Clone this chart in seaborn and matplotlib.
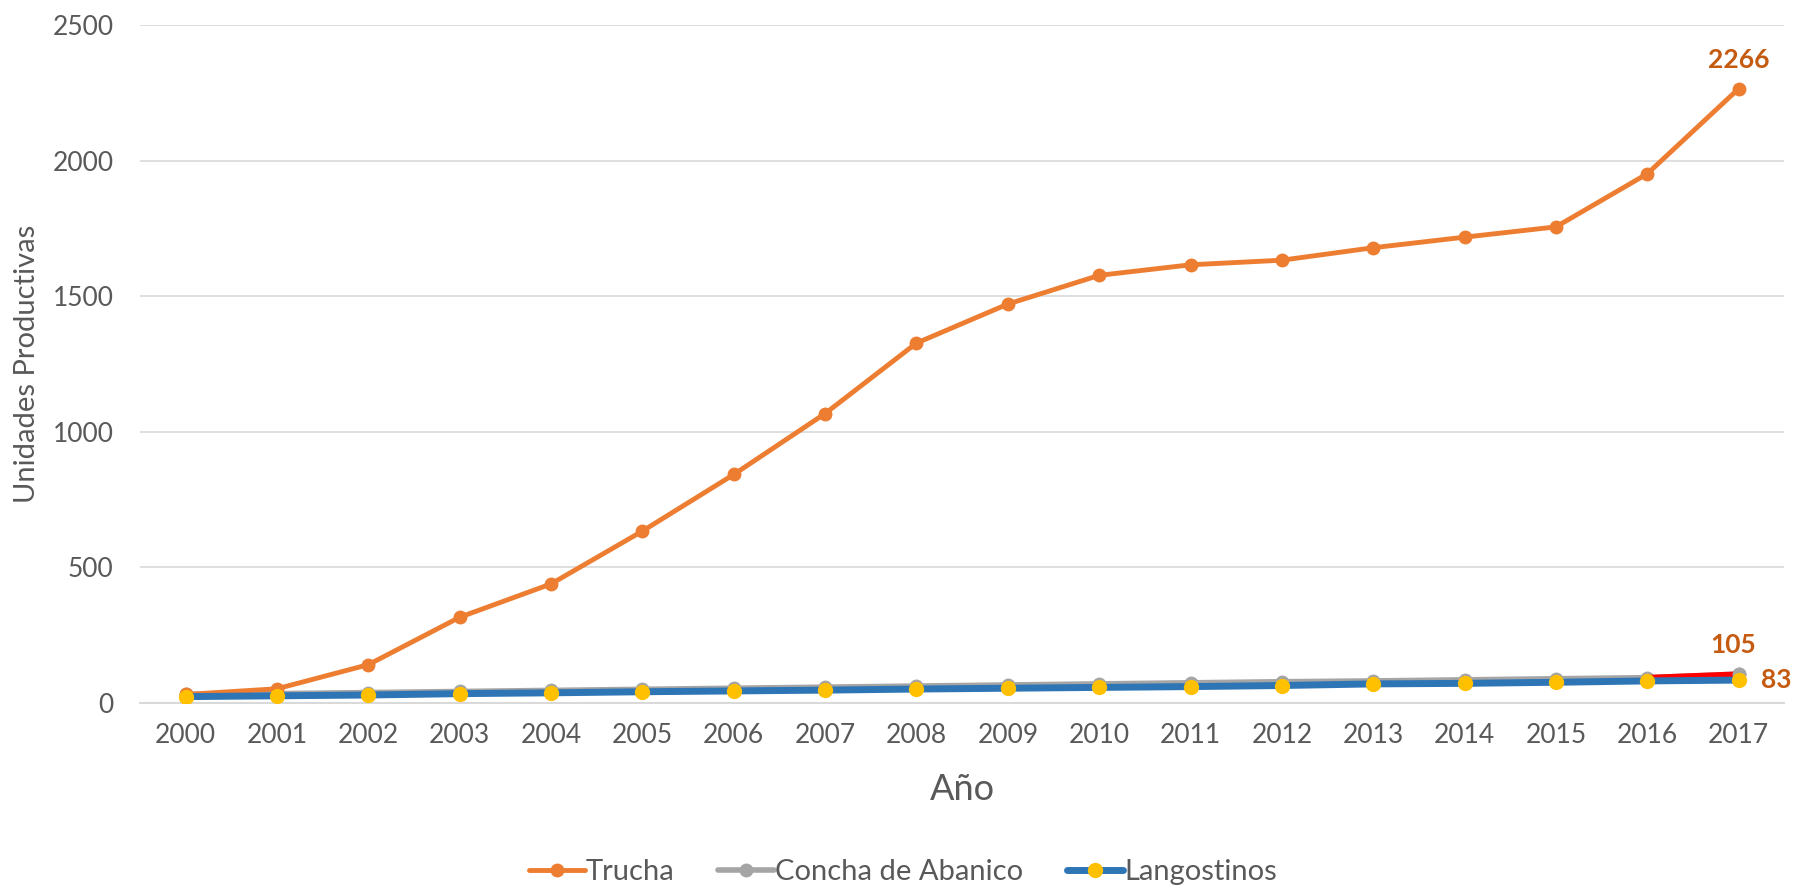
import numpy as np
import pandas as pd
import matplotlib
matplotlib.use('Agg')
import matplotlib.pyplot as plt
import seaborn as sns

years = [str(y) for y in range(2000, 2018)]
trucha = [30, 51, 140, 315, 438, 633, 842, 1067, 1327, 1471, 1577, 1616, 1633, 1679, 1718, 1756, 1952, 2266]
concha = [30, 33, 37, 41, 45, 49, 53, 57, 61, 65, 69, 73, 77, 80, 84, 88, 92, 105]
langostinos = [22, 25, 28, 33, 36, 40, 43, 46, 50, 53, 56, 59, 63, 69, 71, 75, 80, 83]

sns.set_theme(style='white')
plt.rcParams['font.family'] = ['Lato', 'DejaVu Sans']

df = pd.DataFrame({'Año': years, 'Trucha': trucha,
                   'Concha de Abanico': concha, 'Langostinos': langostinos})

fig = plt.figure(figsize=(18.06, 8.88), dpi=100)
ax = fig.add_axes([0.0775, 0.2088, 0.9105, 0.7627])

x = np.arange(len(years))
sns.lineplot(x=x, y=df['Trucha'], ax=ax, color='#ED7D31', lw=3.5, marker='o',
             markersize=10, markeredgewidth=0, label='Trucha', zorder=3)
sns.lineplot(x=x, y=df['Concha de Abanico'], ax=ax, color='#A5A5A5', lw=4, marker='o',
             markersize=10, markeredgewidth=0, label='Concha de Abanico', zorder=2)
# last segment highlighted red
ax.plot(x[-2:], df['Concha de Abanico'].values[-2:], color='#FF0000', lw=4, zorder=2.5)
ax.plot(x[-1], concha[-1], 'o', color='#A5A5A5', ms=10, mew=0, zorder=2.6)
sns.lineplot(x=x, y=df['Langostinos'], ax=ax, color='#2E75B6', lw=5, marker='o',
             markersize=11, markerfacecolor='#FFC000', markeredgewidth=0,
             label='Langostinos', zorder=4)

lab = dict(color='#C55A11', fontsize=19, fontweight='bold')
ax.annotate(str(trucha[-1]), (x[-1], trucha[-1]), xytext=(0, 12), textcoords='offset points',
            ha='center', va='bottom', **lab)
ax.annotate(str(concha[-1]), (x[-1], concha[-1]), xytext=(-4, 12), textcoords='offset points',
            ha='center', va='bottom', **lab)
ax.annotate(str(langostinos[-1]), (x[-1], langostinos[-1]), xytext=(16, 0), textcoords='offset points',
            ha='left', va='center', **lab)

ax.set_xlim(-0.5, len(years) - 0.5)
ax.set_ylim(0, 2500)
ax.set_yticks(range(0, 2501, 500))
ax.set_xticks(x)
ax.set_xticklabels(years)
ax.yaxis.grid(True, color='#D9D9D9', lw=1.2)
ax.set_axisbelow(True)
for s in ['top', 'right', 'left']:
    ax.spines[s].set_visible(False)
ax.spines['bottom'].set_color('#D9D9D9')
ax.spines['bottom'].set_linewidth(1.5)
ax.tick_params(axis='both', colors='#595959', labelsize=19, length=0)
ax.tick_params(axis='x', pad=15)
ax.tick_params(axis='y', pad=19)

ax.set_xlabel('Año', fontsize=26, color='#595959', labelpad=18)
ax.set_ylabel('Unidades Productivas', fontsize=21, color='#595959')
ax.yaxis.set_label_coords(-0.061, 0.5)

handles, labels = ax.get_legend_handles_labels()
ax.get_legend().remove()
fig.legend(handles, labels, loc='center', bbox_to_anchor=(0.5, 0.018), ncol=3, frameon=False,
           fontsize=21, labelcolor='#595959', handlelength=1.9, columnspacing=1.5,
           handletextpad=0.05)

fig.savefig('out.png', dpi=100, facecolor='white')
